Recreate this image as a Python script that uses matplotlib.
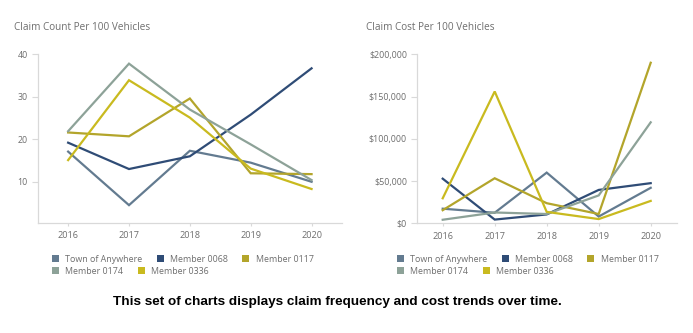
import matplotlib
matplotlib.use('Agg')
import matplotlib.pyplot as plt
from matplotlib.patches import Patch
from matplotlib.ticker import FuncFormatter

# Data
years = [2016, 2017, 2018, 2019, 2020]
series_names = ['Town of Anywhere', 'Member 0068', 'Member 0117', 'Member 0174', 'Member 0336']
series_colors = ['#637b90', '#2f4c76', '#b3a52b', '#8da298', '#c9ba1f']

town_count = [17.1, 4.5, 17.3, 14.5, 10.0]
m0068_count = [19.2, 13.0, 16.0, 25.8, 36.7]
m0117_count = [21.6, 20.7, 29.6, 12.0, 11.8]
m0174_count = [21.9, 37.8, 27.0, 18.8, 10.4]
m0336_count = [15.1, 33.9, 25.1, 13.1, 8.3]

town_cost = [17300, 12500, 60000, 8000, 42000]
m0068_cost = [52800, 4400, 10500, 39500, 47500]
m0117_cost = [15500, 53300, 23800, 11000, 190000]
m0174_cost = [4200, 12800, 11000, 33000, 119500]
m0336_cost = [29600, 156000, 13500, 5000, 26500]

count_ticks = [10, 20, 30, 40]
cost_ticks = [0, 50000, 100000, 150000, 200000]

W, H = 693, 333
fig = plt.figure(figsize=(W / 100, H / 100), dpi=100)
fig.patch.set_facecolor('white')

font = 'Open Sans'
grey_text = '#6e6e6e'
axis_grey = '#d9d9d9'


def px_axes(x0, x1, ytop, ybot):
    return fig.add_axes([x0 / W, 1 - ybot / H, (x1 - x0) / W, (ybot - ytop) / H])


def style(ax):
    for s in ('top', 'right'):
        ax.spines[s].set_visible(False)
    for s in ('left', 'bottom'):
        ax.spines[s].set_color(axis_grey)
        ax.spines[s].set_linewidth(0.9)
    ax.set_xlim(2015.5, 2020.5)
    ax.set_xticks(years)
    ax.tick_params(axis='x', length=2, color=axis_grey, pad=4, labelsize=6.6, labelcolor=grey_text)
    ax.tick_params(axis='y', length=4, color=axis_grey, pad=3, labelsize=6.4, labelcolor=grey_text)
    for lab in ax.get_xticklabels() + ax.get_yticklabels():
        lab.set_fontfamily(font)


def legend_rows(x_left, y_row1, y_row2):
    handles = [Patch(facecolor=c, edgecolor='none') for c in series_colors]
    kw = dict(frameon=False, handlelength=0.8, handleheight=0.8, handletextpad=0.7,
              borderpad=0, borderaxespad=0, labelcolor=grey_text,
              prop={'family': font, 'size': 6.4}, loc='center left', columnspacing=1.6)
    l1 = fig.legend(handles[:3], series_names[:3], ncol=3,
                    bbox_to_anchor=(x_left / W, 1 - y_row1 / H), **kw)
    l2 = fig.legend(handles[3:], series_names[3:], ncol=2,
                    bbox_to_anchor=(x_left / W, 1 - y_row2 / H), **kw)
    return l1, l2


# Left chart: claim count
ax0 = px_axes(37.7, 342, 54.3, 223)
count_series = [town_count, m0068_count, m0117_count, m0174_count, m0336_count]
for vals, c in zip(count_series, series_colors):
    ax0.plot(years, vals, color=c, linewidth=1.6, solid_joinstyle='miter')
ax0.set_ylim(0.3, 40)
ax0.set_yticks(count_ticks)
style(ax0)
fig.text(14 / W, 1 - 27 / H, 'Claim Count Per 100 Vehicles', fontsize=7.2, color=grey_text,
         family=font, va='center', ha='left')

# Right chart: claim cost
ax1 = px_axes(416.7, 676.7, 54.3, 223.3)
cost_series = [town_cost, m0068_cost, m0117_cost, m0174_cost, m0336_cost]
for vals, c in zip(cost_series, series_colors):
    ax1.plot(years, vals, color=c, linewidth=1.6, solid_joinstyle='miter')
ax1.set_ylim(0, 200000)
ax1.set_yticks(cost_ticks)
ax1.yaxis.set_major_formatter(FuncFormatter(lambda v, p: '${:,.0f}'.format(v)))
style(ax1)
fig.text(366 / W, 1 - 27 / H, 'Claim Cost Per 100 Vehicles', fontsize=7.2, color=grey_text,
         family=font, va='center', ha='left')

legend_rows(52, 259, 271)
legend_rows(397, 259, 271)

fig.text(0.487, 1 - 302 / H, 'This set of charts displays claim frequency and cost trends over time.',
         fontsize=9.7, fontweight='bold', family='Liberation Sans', color='black',
         ha='center', va='center')

fig.savefig('out.png', dpi=100, facecolor='white')
